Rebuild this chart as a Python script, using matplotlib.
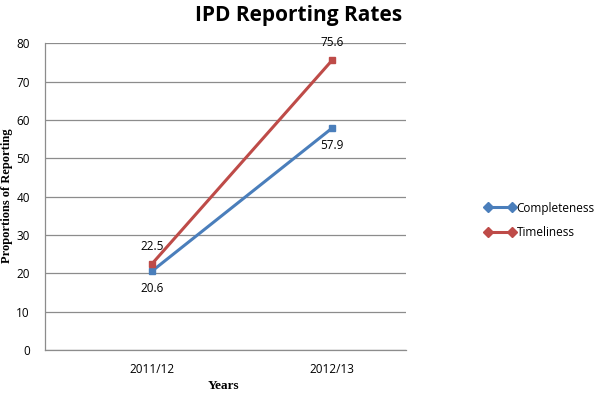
import matplotlib.pyplot as plt
from matplotlib.lines import Line2D

years = ["2011/12", "2012/13"]
completeness = [20.6, 57.9]
timeliness = [22.5, 75.6]

blue = "#4A7EBB"
red = "#BE4B48"
grid_col = "#8C8C8C"

fig = plt.figure(figsize=(6, 3.96), dpi=100)
ax = fig.add_axes([0.075, 0.116, 0.602, 0.775])

x = list(range(len(years)))
ax.plot(x, completeness, color=blue, lw=2.2, marker="s", ms=5, zorder=3)
ax.plot(x, timeliness, color=red, lw=2.2, marker="s", ms=5, zorder=3)

# data labels: timeliness above, completeness below
for xi, v in zip(x, timeliness):
    ax.annotate(f"{v}", (xi, v), xytext=(0, 8), textcoords="offset points",
                ha="center", va="bottom", fontsize=8.5, family="Open Sans")
for xi, v in zip(x, completeness):
    ax.annotate(f"{v}", (xi, v), xytext=(0, -8), textcoords="offset points",
                ha="center", va="top", fontsize=8.5, family="Open Sans")

ax.set_xlim(-0.594, 1.41)
ax.set_ylim(0, 80)
ax.set_yticks(range(0, 81, 10))
ax.set_xticks(x)
ax.set_xticklabels(years)
ax.tick_params(axis="x", length=0, labelsize=8.5, pad=9)
ax.tick_params(axis="y", length=0, labelsize=8.5, pad=11)
for lab in ax.get_xticklabels() + ax.get_yticklabels():
    lab.set_family("Open Sans")
ax.grid(axis="y", color=grid_col, lw=0.9)
ax.set_axisbelow(True)
for s in ["top", "right"]:
    ax.spines[s].set_visible(False)
for s in ["left", "bottom"]:
    ax.spines[s].set_color(grid_col)
    ax.spines[s].set_linewidth(0.9)

# axis titles placed in figure coords
fig.text(0.372, 1 - 386 / 396, "Years", ha="center", va="center",
         family="Liberation Serif", fontweight="bold", fontsize=9.5)
fig.text(7 / 600, 1 - 196 / 396, "Proportions of Reporting", ha="center", va="center",
         rotation=90, family="Liberation Serif", fontweight="bold", fontsize=9)

fig.text(0.497, 0.962, "IPD Reporting Rates", ha="center", va="center",
         fontsize=15, fontweight="bold", family="Open Sans")

handles = [Line2D([0], [0], color=blue, lw=2.2, marker="D", ms=5),
           Line2D([0], [0], color=red, lw=2.2, marker="D", ms=5)]
fig.legend(handles, ["Completeness", "Timeliness"], loc="center left",
           bbox_to_anchor=(0.79, 0.444), frameon=False, numpoints=2,
           handlelength=2.6, handletextpad=0.1, labelspacing=0.94,
           prop={"family": "Open Sans", "size": 8.5})

fig.savefig("out.png", dpi=100)
